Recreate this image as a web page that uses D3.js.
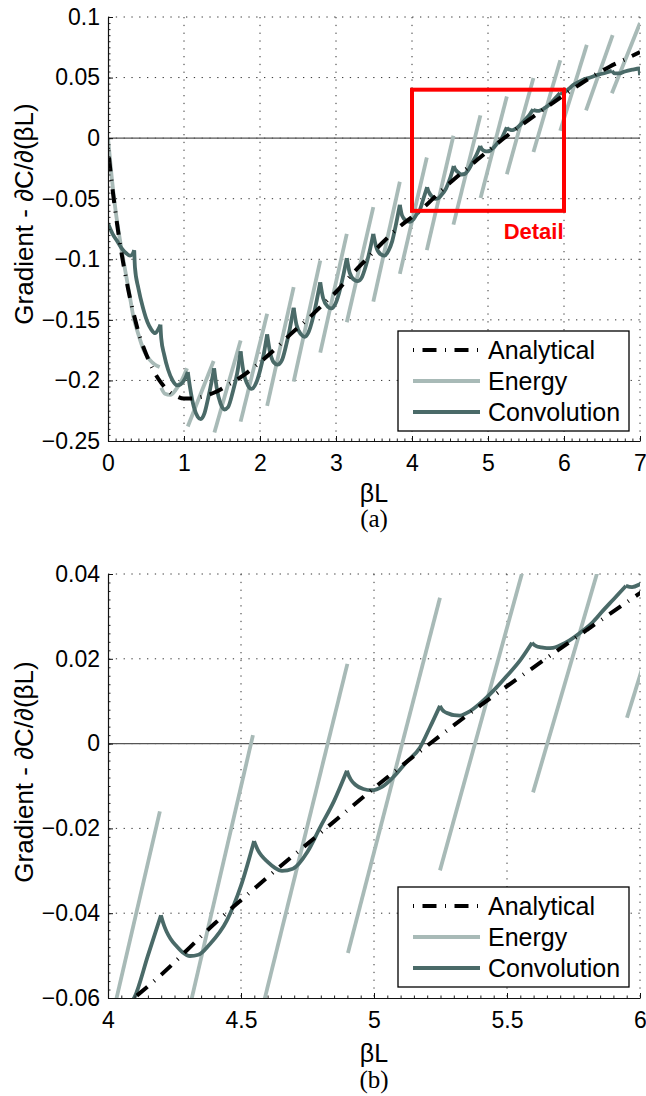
<!DOCTYPE html>
<html><head><meta charset="utf-8">
<script src="https://cdn.jsdelivr.net/npm/d3@7"></script>
<style>body{margin:0;background:#fff} svg{display:block}</style>
</head><body><svg id="c" width="646" height="1096"></svg>
<script>
// ---------------- data ----------------
const analyticalX = [0,0.05,0.1,0.15,0.2,0.25,0.3,0.35,0.4,0.5,0.6,0.7,0.8,0.9,1.0,1.1,1.2,1.4,1.6,1.8,2.0,2.2,2.4,2.6,2.8,3.0,3.2,3.4,3.6,3.8,4.0,4.2,4.4,4.6,4.8,5.0,5.2,5.4,5.6,5.8,6.0,6.2,6.4,6.6,6.8,7.0];
const analyticalY = [-0.008,-0.037,-0.062,-0.084,-0.103,-0.12,-0.135,-0.148,-0.16,-0.178,-0.192,-0.202,-0.209,-0.213,-0.215,-0.215,-0.214,-0.21,-0.203,-0.195,-0.185,-0.174,-0.162,-0.151,-0.139,-0.127,-0.113,-0.1,-0.087,-0.075,-0.065,-0.0545,-0.0425,-0.0315,-0.021,-0.0105,-0.0005,0.009,0.018,0.0268,0.0355,0.044,0.052,0.059,0.065,0.071];

const energySegments = [
  [[0,0],[0.05,-0.033],[0.1,-0.06],[0.16,-0.085],[0.22,-0.107],[0.28,-0.128],[0.33,-0.146],[0.4,-0.162],[0.47,-0.175],[0.55,-0.183],[0.62,-0.187],[0.68,-0.189]],
  [[0.70,-0.206],[0.75,-0.211],[0.82,-0.212],[0.9,-0.207],[0.97,-0.2],[1.04,-0.19]],
  [[1.05,-0.238],[1.39,-0.184]],
  [[1.40,-0.243],[1.745,-0.167]],
  [[1.745,-0.234],[2.094,-0.145]],
  [[2.094,-0.221],[2.443,-0.123]],
  [[2.443,-0.201],[2.793,-0.101]],
  [[2.793,-0.177],[3.142,-0.079]],
  [[3.142,-0.152],[3.491,-0.057]],
  [[3.491,-0.135],[3.84,-0.036]],
  [[3.84,-0.112],[4.195,-0.016]],
  [[4.195,-0.0924],[4.545,0.002]],
  [[4.545,-0.0714],[4.90,0.0188]],
  [[4.902,-0.0494],[5.248,0.0344]],
  [[5.248,-0.0299],[5.598,0.0496]],
  [[5.598,-0.0115],[5.951,0.0643]],
  [[5.951,0.0061],[6.30,0.077]],
  [[6.29,0.023],[6.64,0.085]],
  [[6.63,0.037],[7.0,0.095]]
];

const convolutionPieces = [
  [[0,-0.0705],[0.06,-0.079],[0.12,-0.085],[0.18,-0.091],[0.24,-0.095],[0.29,-0.097],[0.32,-0.096],[0.345,-0.0925]],
  [[0.345,-0.0925],[0.355,-0.107],[0.40,-0.124],[0.46,-0.14],[0.52,-0.152],[0.57,-0.158],[0.62,-0.161],[0.66,-0.158],[0.69,-0.154]],
  [[0.69,-0.154],[0.70,-0.165],[0.74,-0.179],[0.79,-0.191],[0.85,-0.2],[0.91,-0.204],[0.96,-0.203],[1.01,-0.199],[1.05,-0.193]],
  [[1.05,-0.193],[1.08,-0.206],[1.13,-0.222],[1.18,-0.23],[1.22,-0.232],[1.27,-0.227],[1.32,-0.214],[1.36,-0.202],[1.396,-0.19]],
  [[1.396,-0.19],[1.43,-0.206],[1.48,-0.219],[1.53,-0.224],[1.58,-0.222],[1.64,-0.21],[1.70,-0.194],[1.745,-0.176]],
  [[1.745,-0.176],[1.78,-0.192],[1.84,-0.204],[1.89,-0.207],[1.95,-0.202],[2.0,-0.192],[2.05,-0.178],[2.094,-0.162]],
  [[2.094,-0.162],[2.13,-0.176],[2.18,-0.185],[2.23,-0.187],[2.29,-0.183],[2.34,-0.172],[2.39,-0.158],[2.443,-0.14]],
  [[2.443,-0.14],[2.48,-0.154],[2.54,-0.162],[2.59,-0.164],[2.64,-0.16],[2.69,-0.15],[2.74,-0.136],[2.793,-0.119]],
  [[2.793,-0.119],[2.83,-0.132],[2.89,-0.139],[2.94,-0.1405],[2.99,-0.137],[3.04,-0.128],[3.09,-0.115],[3.142,-0.099]],
  [[3.142,-0.099],[3.18,-0.111],[3.24,-0.117],[3.29,-0.118],[3.34,-0.115],[3.39,-0.106],[3.44,-0.094],[3.491,-0.079]],
  [[3.491,-0.079],[3.53,-0.09],[3.59,-0.096],[3.64,-0.097],[3.69,-0.093],[3.74,-0.085],[3.79,-0.071],[3.84,-0.055]],
  [[3.84,-0.055],[3.87,-0.064],[3.92,-0.068],[3.97,-0.069],[4.02,-0.067],[4.06,-0.063],[4.10,-0.0598],[4.15,-0.05],[4.199,-0.0405]],
  [[4.199,-0.0405],[4.205,-0.0418],[4.212,-0.0431],[4.22,-0.0443],[4.235,-0.046],[4.258,-0.0478],[4.28,-0.0492],[4.308,-0.0501],[4.34,-0.0498],[4.38,-0.0475],[4.447,-0.0417],[4.50,-0.0335],[4.549,-0.023]],
  [[4.549,-0.023],[4.556,-0.0241],[4.565,-0.0253],[4.578,-0.0265],[4.6,-0.0279],[4.625,-0.0292],[4.654,-0.0300],[4.695,-0.0295],[4.75,-0.0255],[4.797,-0.0198],[4.85,-0.0135],[4.898,-0.0064]],
  [[4.898,-0.0064],[4.904,-0.0074],[4.913,-0.0085],[4.93,-0.0097],[4.96,-0.0107],[4.992,-0.011],[5.03,-0.0102],[5.071,-0.008],[5.12,-0.0045],[5.173,-0.0009],[5.21,0.0038],[5.248,0.0089]],
  [[5.248,0.0089],[5.254,0.0082],[5.263,0.0076],[5.28,0.0071],[5.30,0.0067],[5.323,0.0066],[5.36,0.0076],[5.41,0.0101],[5.46,0.0132],[5.50,0.016],[5.55,0.0197],[5.594,0.0238]],
  [[5.594,0.0238],[5.6,0.0234],[5.61,0.023],[5.628,0.0227],[5.65,0.0225],[5.673,0.0226],[5.72,0.0238],[5.774,0.0261],[5.82,0.0285],[5.86,0.0313],[5.90,0.034],[5.947,0.0372]],
  [[5.947,0.0372],[5.97,0.0369],[6.0,0.0376],[6.06,0.0405],[6.12,0.0438],[6.2,0.0466],[6.28,0.049]],
  [[6.28,0.049],[6.32,0.0495],[6.43,0.052],[6.55,0.054],[6.63,0.0555]],
  [[6.63,0.0555],[6.67,0.0535],[6.73,0.0535],[6.8,0.055],[6.9,0.0565],[6.99,0.0575],[7.0,0.052]]
];

const seriesNames = ["Analytical","Energy","Convolution"];
const seriesColors = {Analytical:"#000000", Energy:"#a8bab7", Convolution:"#4a6a68"};

const topXTicks = [0,1,2,3,4,5,6,7];
const topXTickLabels = ["0","1","2","3","4","5","6","7"];
const topYTicks = [-0.25,-0.2,-0.15,-0.1,-0.05,0,0.05,0.1];
const topYTickLabels = ["\u22120.25","\u22120.2","\u22120.15","\u22120.1","\u22120.05","0","0.05","0.1"];
const bottomXTicks = [4,4.5,5,5.5,6];
const bottomXTickLabels = ["4","4.5","5","5.5","6"];
const bottomYTicks = [-0.06,-0.04,-0.02,0,0.02,0.04];
const bottomYTickLabels = ["\u22120.06","\u22120.04","\u22120.02","0","0.02","0.04"];
const detailBox = [4, 6, -0.06, 0.04];   // x0, x1, y0, y1
const yLabel = "Gradient - \u2202C/\u2202(\u03B2L)";
const xLabel = "\u03B2L";

// ---------------- drawing ----------------
const svg = d3.select("#c");
const SANS = "'Liberation Sans', Arial, Helvetica, sans-serif";
const AN_DASH = "1,8.5,14,8.5";

function panel(o){
  const L = 108, R = 640;
  const x = d3.scaleLinear().domain(o.xd).range([L, R]);
  const y = d3.scaleLinear().domain(o.yd).range([o.bottom, o.top]);
  const g = svg.append("g");

  svg.append("clipPath").attr("id", "clip" + o.id)
    .append("rect").attr("x", L).attr("y", o.top).attr("width", R - L).attr("height", o.bottom - o.top);

  // dotted grid
  g.selectAll(null).data(o.xt.filter(v => v !== o.xd[0])).enter().append("line")
    .attr("x1", d => x(d)).attr("x2", d => x(d)).attr("y1", o.top).attr("y2", o.bottom)
    .attr("stroke", "#333").attr("stroke-width", 1).attr("stroke-dasharray", "1.3,6.5");
  g.selectAll(null).data(o.yt.filter(v => v !== o.yd[0])).enter().append("line")
    .attr("y1", d => y(d)).attr("y2", d => y(d)).attr("x1", L).attr("x2", R)
    .attr("stroke", "#333").attr("stroke-width", 1).attr("stroke-dasharray", "1.3,6.5");

  // zero line
  g.append("line").attr("x1", L).attr("x2", R).attr("y1", y(0)).attr("y2", y(0))
    .attr("stroke", "#555").attr("stroke-width", 1.4);

  const pg = g.append("g").attr("clip-path", `url(#clip${o.id})`);
  const line = d3.line().x(d => x(d[0])).y(d => y(d[1])).curve(d3.curveMonotoneX);

  energySegments.forEach(seg => {
    pg.append("path").datum(seg).attr("d", line).attr("fill", "none")
      .attr("stroke", seriesColors.Energy).attr("stroke-width", 3.8);
  });
  convolutionPieces.forEach(seg => {
    pg.append("path").datum(seg).attr("d", line).attr("fill", "none")
      .attr("stroke", seriesColors.Convolution).attr("stroke-width", 3.8).attr("stroke-linejoin", "round");
  });
  const an = analyticalX.map((v, i) => [v, analyticalY[i]]);
  pg.append("path").datum(an).attr("d", line).attr("fill", "none")
    .attr("stroke", seriesColors.Analytical).attr("stroke-width", 4).attr("stroke-dasharray", AN_DASH);

  // axes
  const minorY = d3.range(o.yd[0], o.yd[1] + 1e-9, o.ym);
  const minorX = d3.range(o.xd[0], o.xd[1] + 1e-9, o.xm);
  g.append("g").attr("transform", `translate(${L},0)`)
    .call(d3.axisLeft(y).tickValues(minorY).tickSize(-2.5).tickSizeOuter(0).tickFormat(""))
    .call(s => s.select(".domain").remove())
    .selectAll("line").attr("stroke", "#222");
  g.append("g").attr("transform", `translate(0,${o.bottom})`)
    .call(d3.axisBottom(x).tickValues(minorX).tickSize(-2.5).tickSizeOuter(0).tickFormat(""))
    .call(s => s.select(".domain").remove())
    .selectAll("line").attr("stroke", "#222");

  const ya = g.append("g").attr("transform", `translate(${L},0)`)
    .call(d3.axisLeft(y).tickValues(o.yt).tickSize(-5).tickSizeOuter(0).tickPadding(8)
      .tickFormat((d, i) => o.ytl[i]));
  const xa = g.append("g").attr("transform", `translate(0,${o.bottom})`)
    .call(d3.axisBottom(x).tickValues(o.xt).tickSize(-5).tickSizeOuter(0).tickPadding(14)
      .tickFormat((d, i) => o.xtl[i]));
  [ya, xa].forEach(a => {
    a.select(".domain").attr("stroke", "#111").attr("stroke-width", 1.2);
    a.selectAll("line").attr("stroke", "#111");
    a.selectAll("text").attr("font-family", SANS).attr("font-size", 23).attr("fill", "#000");
  });

  // labels
  svg.append("text").attr("transform", `translate(33,${o.ylabY}) rotate(-90)`)
    .attr("text-anchor", "middle").attr("font-family", SANS).attr("font-size", 26).text(yLabel);
  svg.append("text").attr("x", x((o.xd[0] + o.xd[1]) / 2)).attr("y", o.bottom + o.xlabDy)
    .attr("text-anchor", "middle").attr("font-family", SANS).attr("font-size", 25).text(xLabel);
  svg.append("text").attr("x", x((o.xd[0] + o.xd[1]) / 2)).attr("y", o.bottom + o.capDy)
    .attr("text-anchor", "middle").attr("font-family", "'Liberation Serif', 'Times New Roman', serif")
    .attr("font-size", 25).text(o.caption);

  // legend
  const lg = svg.append("g").attr("transform", `translate(398,${o.legTop})`);
  lg.append("rect").attr("x", 0).attr("y", 0).attr("width", 231).attr("height", 100)
    .attr("fill", "#fff").attr("stroke", "#000").attr("stroke-width", 1.3);
  seriesNames.forEach((nm, i) => {
    const yy = 19 + i * 31;
    const ln = lg.append("line").attr("x1", 15).attr("x2", 82).attr("y1", yy).attr("y2", yy)
      .attr("stroke", seriesColors[nm]).attr("stroke-width", nm === "Analytical" ? 4 : 3.8);
    if (nm === "Analytical") ln.attr("stroke-dasharray", AN_DASH);
    lg.append("text").attr("x", 90).attr("y", yy).attr("dy", "0.36em")
      .attr("font-family", SANS).attr("font-size", 25).text(nm);
  });

  return {x, y};
}

const topP = panel({id: "a", xd: [0, 7], yd: [-0.25, 0.1], top: 17, bottom: 441,
  xt: topXTicks, xtl: topXTickLabels, yt: topYTicks, ytl: topYTickLabels, xm: 0.1, ym: 0.005,
  ylabY: 214, xlabDy: 61, capDy: 86, caption: "(a)", legTop: 331});

panel({id: "b", xd: [4, 6], yd: [-0.06, 0.04], top: 574, bottom: 998,
  xt: bottomXTicks, xtl: bottomXTickLabels, yt: bottomYTicks, ytl: bottomYTickLabels, xm: 0.05, ym: 0.002,
  ylabY: 772, xlabDy: 64, capDy: 90, caption: "(b)", legTop: 887});

// detail box on the top panel
const bx = topP.x, by = topP.y;
svg.append("rect").attr("x", bx(detailBox[0])).attr("y", by(detailBox[3]))
  .attr("width", bx(detailBox[1]) - bx(detailBox[0])).attr("height", by(detailBox[2]) - by(detailBox[3]))
  .attr("fill", "none").attr("stroke", "#ff0000").attr("stroke-width", 4);
svg.append("text").attr("x", bx(5.6)).attr("y", by(detailBox[2]) + 28)
  .attr("text-anchor", "middle").attr("font-family", SANS).attr("font-weight", "bold")
  .attr("font-size", 22).attr("fill", "#ff0000").text("Detail");
</script>
</body></html>
